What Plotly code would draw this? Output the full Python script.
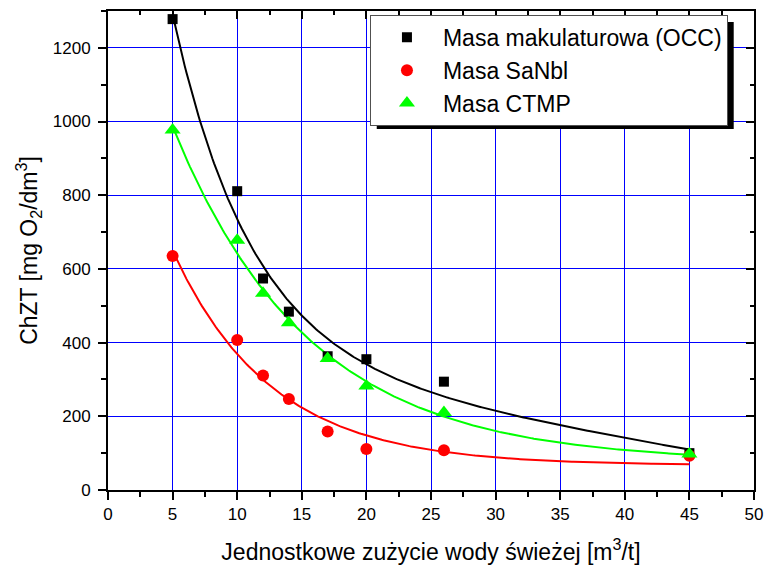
import numpy as np
import plotly.graph_objects as go

# Fresh water consumption [m3/t]
x_occ = [5, 10, 12, 14, 17, 20, 26, 45]
x_sanbl = [5, 10, 12, 14, 17, 20, 26, 45]
x_ctmp = [5, 10, 12, 14, 17, 20, 26, 45]

# COD values [mg O2/dm3]
y_occ = [1278, 811, 574, 484, 363, 355, 294, 100]
y_sanbl = [635, 407, 311, 247, 159, 111, 108, 93]
y_ctmp = [977, 678, 534, 454, 357, 282, 210, 98]

names = ["Masa makulaturowa (OCC)", "Masa SaNbl", "Masa CTMP"]
colors = ["#000000", "#ff0000", "#00ff00"]
symbols = ["square", "circle", "triangle-up"]
sizes = [10, 12, 14]
n_exp = [2, 1, 1]  # number of exponential terms in each fit

x_ticks = [0, 5, 10, 15, 20, 25, 30, 35, 40, 45, 50]
y_ticks = [0, 200, 400, 600, 800, 1000, 1200]


def expdec_fit(x, y, n):
    """Least-squares fit of y = y0 + sum(A_i*exp(-x/t_i)), scanning t_i."""
    x = np.asarray(x, float)
    y = np.asarray(y, float)
    best = None
    if n == 1:
        grid = [(t,) for t in np.linspace(1.0, 200.0, 4000)]
    else:
        grid = [(t1, t2) for t1 in np.linspace(1.0, 30.0, 150)
                for t2 in np.linspace(t1 + 0.5, 400.0, 250)]
    for ts in grid:
        M = np.column_stack([np.ones_like(x)] + [np.exp(-x / t) for t in ts])
        coef, *_ = np.linalg.lstsq(M, y, rcond=None)
        err = np.sum((M @ coef - y) ** 2)
        if best is None or err < best[0]:
            best = (err, coef, ts)
    _, coef, ts = best

    def f(xx):
        xx = np.asarray(xx, float)
        return coef[0] + sum(a * np.exp(-xx / t) for a, t in zip(coef[1:], ts))
    return f


fig = go.Figure()

series = [(x_occ, y_occ), (x_sanbl, y_sanbl), (x_ctmp, y_ctmp)]

# fitted decay curves
for (xs, ys), c, k in zip(series, colors, n_exp):
    f = expdec_fit(xs, ys, k)
    xx = np.linspace(min(xs), max(xs), 300)
    fig.add_trace(go.Scatter(x=xx, y=f(xx), mode="lines",
                             line=dict(color=c, width=2),
                             showlegend=False, hoverinfo="skip"))

# measured points
for (xs, ys), n, c, s, sz in zip(series, names, colors, symbols, sizes):
    fig.add_trace(go.Scatter(x=xs, y=ys, mode="markers", name=n,
                             marker=dict(color=c, symbol=s, size=sz,
                                         line=dict(width=0))))

# helper trace carrying the mirrored top/right axes
fig.add_trace(go.Scatter(x=[None], y=[None], xaxis="x2", yaxis="y2",
                         showlegend=False, hoverinfo="skip"))

font = "Liberation Sans, Arial, sans-serif"
common = dict(showline=True, linecolor="black", linewidth=2,
              tickcolor="black", tickwidth=1.5, zeroline=False)

fig.update_layout(
    template="none",
    width=767, height=567,
    margin=dict(l=108, r=13, t=11, b=77),
    paper_bgcolor="white", plot_bgcolor="white",
    font=dict(family=font, color="black"),
    xaxis=dict(range=[0, 50], tickvals=x_ticks, ticks="outside", ticklen=8,
               minor=dict(ticks="outside", ticklen=5, dtick=2.5, tick0=0,
                          tickcolor="black", tickwidth=1.5, showgrid=False),
               showgrid=True, gridcolor="#0000ff", gridwidth=1,
               tickfont=dict(size=17),
               title=dict(text="Jednostkowe zużycie wody świeżej [m<sup>3</sup>/t]",
                          font=dict(size=23), standoff=20),
               **common),
    yaxis=dict(range=[0, 1300], tickvals=y_ticks, ticks="outside", ticklen=8,
               minor=dict(ticks="outside", ticklen=5, dtick=100, tick0=0,
                          tickcolor="black", tickwidth=1.5, showgrid=False),
               showgrid=True, gridcolor="#0000ff", gridwidth=1,
               tickfont=dict(size=17), ticklabelstandoff=4,
               title=dict(text="ChZT [mg O<sub>2</sub>/dm<sup>3</sup>]",
                          font=dict(size=23), standoff=9),
               **common),
    xaxis2=dict(range=[0, 50], overlaying="x", anchor="y", side="top",
                tickvals=x_ticks, ticks="inside", ticklen=8,
                minor=dict(ticks="inside", ticklen=4, dtick=2.5, tick0=0,
                           tickcolor="black", tickwidth=1.5),
                showticklabels=False, showgrid=False, **common),
    yaxis2=dict(range=[0, 1300], overlaying="y", anchor="x", side="right",
                tickvals=y_ticks, ticks="inside", ticklen=8,
                minor=dict(ticks="inside", ticklen=4, dtick=100, tick0=0,
                           tickcolor="black", tickwidth=1.5),
                showticklabels=False, showgrid=False, **common),
    legend=dict(x=0.4055, y=0.992, xanchor="left", yanchor="top",
                bgcolor="white", bordercolor="#505050", borderwidth=1,
                font=dict(size=23), tracegroupgap=0, itemwidth=62),
    # drop shadow behind the legend box
    shapes=[dict(type="rect", xref="paper", yref="paper",
                 x0=0.4160, x1=0.9686, y0=0.7537, y1=0.977,
                 fillcolor="black", line=dict(width=0), layer="above")],
)

fig.write_html("out.html")
